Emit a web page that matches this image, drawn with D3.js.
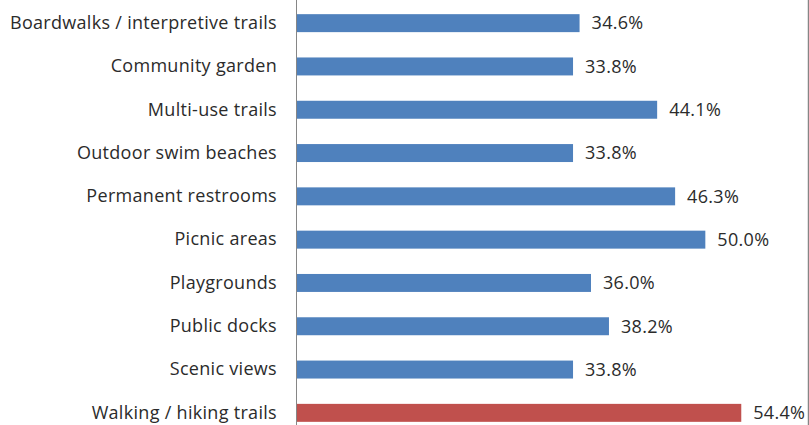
<html>
<head>
<script src="https://cdn.jsdelivr.net/npm/d3@7"></script>
<style>
  body { margin: 0; background: #fff; }
  text { font-family: "Open Sans", sans-serif; fill: #2b2b2b; }
</style>
</head>
<body>
<svg width="809" height="425" id="chart"></svg>
<script>
// data
var categories = [
  "Boardwalks / interpretive trails",
  "Community garden",
  "Multi-use trails",
  "Outdoor swim beaches",
  "Permanent restrooms",
  "Picnic areas",
  "Playgrounds",
  "Public docks",
  "Scenic views",
  "Walking / hiking trails"
];
var values = [34.6, 33.8, 44.1, 33.8, 46.3, 50.0, 36.0, 38.2, 33.8, 54.4];
var highlight = ["Walking / hiking trails"];

var svg = d3.select("#chart"),
    width = +svg.attr("width"),
    height = +svg.attr("height");

var x = d3.scaleLinear().domain([0, 60]).range([297, 787]);
var y = d3.scaleBand().domain(categories).range([1.5, 434.5])
  .paddingInner(0.585).paddingOuter(0.2925);

var rows = categories.map(function(c, i) { return { name: c, value: values[i] }; });

// bars
svg.append("g").selectAll("rect")
  .data(rows)
  .enter().append("rect")
  .attr("x", x(0))
  .attr("y", function(d) { return y(d.name); })
  .attr("width", function(d) { return x(d.value) - x(0); })
  .attr("height", y.bandwidth())
  .style("fill", function(d) { return highlight.indexOf(d.name) >= 0 ? "#C0504D" : "#4F81BD"; });

// category axis
var yAxis = svg.append("g")
  .attr("transform", "translate(" + x(0) + ",0)")
  .call(d3.axisLeft(y).tickSize(0).tickPadding(20));
yAxis.select(".domain").remove();
yAxis.selectAll("text")
  .style("font-size", "18px")
  .style("letter-spacing", "0.3px")
  .style("font-family", "'Open Sans', sans-serif")
  .attr("fill", "#2b2b2b");

svg.append("line")
  .attr("x1", x(0) - 0.5).attr("x2", x(0) - 0.5)
  .attr("y1", 0).attr("y2", height)
  .style("stroke", "#868686").style("stroke-width", 1);

// right border
svg.append("line")
  .attr("x1", width - 0.5).attr("x2", width - 0.5)
  .attr("y1", 0).attr("y2", height)
  .style("stroke", "#868686").style("stroke-width", 1.5);

// value labels
svg.append("g").selectAll("text")
  .data(rows)
  .enter().append("text")
  .attr("x", function(d) { return x(d.value) + 12; })
  .attr("y", function(d) { return y(d.name) + y.bandwidth() / 2; })
  .attr("dy", "0.35em")
  .style("font-size", "18px")
  .style("letter-spacing", "0.3px")
  .text(function(d) { return d.value.toFixed(1) + "%"; });
</script>
</body>
</html>
